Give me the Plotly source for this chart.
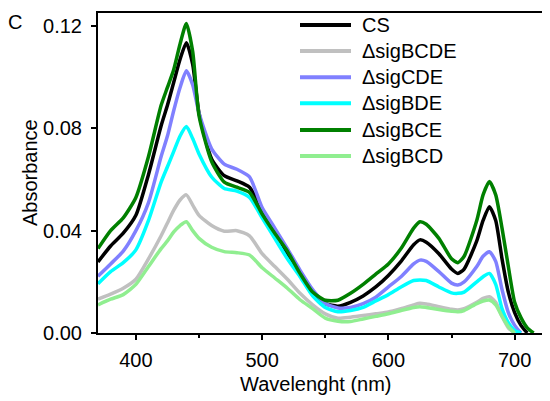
import plotly.graph_objects as go

wavelength = [370, 380, 390, 400, 410, 420, 425, 430, 435, 440, 445, 450, 460, 470, 480, 490,
              500, 510, 520, 530, 540, 550, 560, 570, 580, 590, 600, 610, 620, 625, 630,
              640, 650, 655, 660, 670, 675, 680, 685, 690, 695, 700, 705, 710, 715]

cs = [0.0278, 0.034, 0.039, 0.046, 0.062, 0.081, 0.089, 0.098, 0.107, 0.1135, 0.105, 0.086,
      0.068, 0.0615, 0.0595, 0.057, 0.048, 0.040, 0.031, 0.023, 0.015, 0.0115, 0.0105, 0.012,
      0.0145, 0.018, 0.0225, 0.028, 0.0345, 0.0364, 0.0355, 0.031, 0.025, 0.0233, 0.025,
      0.036, 0.044, 0.0494, 0.044, 0.029, 0.016, 0.008, 0.003, 0.0, None]

d_bcde = [0.0132, 0.0152, 0.0175, 0.021, 0.029, 0.038, 0.043, 0.048, 0.052, 0.054, 0.050, 0.046,
          0.042, 0.0398, 0.040, 0.038, 0.031, 0.026, 0.021, 0.0155, 0.011, 0.0075, 0.0058, 0.0062,
          0.0068, 0.0075, 0.0082, 0.0095, 0.011, 0.0116, 0.0113, 0.0103, 0.0093, 0.009, 0.0095,
          0.012, 0.0135, 0.0142, 0.012, 0.0065, 0.002, 0.0, None, None, None]

d_cde = [0.0222, 0.027, 0.032, 0.040, 0.051, 0.069, 0.077, 0.087, 0.096, 0.1025, 0.097, 0.086,
         0.072, 0.066, 0.064, 0.061, 0.049, 0.041, 0.033, 0.0246, 0.017, 0.0115, 0.0098, 0.010,
         0.0115, 0.014, 0.018, 0.022, 0.027, 0.0285, 0.028, 0.024, 0.0195, 0.0188, 0.020,
         0.026, 0.030, 0.0318, 0.028, 0.017, 0.008, 0.003, 0.0, None, None]

d_bde = [0.0193, 0.0240, 0.0275, 0.0325, 0.044, 0.059, 0.065, 0.071, 0.077, 0.0807, 0.076, 0.070,
         0.061, 0.0565, 0.0555, 0.053, 0.045, 0.037, 0.029, 0.022, 0.0145, 0.010, 0.0083, 0.0088,
         0.010, 0.0125, 0.015, 0.018, 0.0205, 0.0207, 0.0205, 0.018, 0.0157, 0.0155, 0.016,
         0.020, 0.022, 0.0233, 0.019, 0.0095, 0.004, 0.001, 0.0, None, None]

d_bce = [0.0330, 0.040, 0.045, 0.053, 0.069, 0.089, 0.096, 0.103, 0.113, 0.121, 0.110, 0.085,
         0.067, 0.059, 0.057, 0.055, 0.0465, 0.039, 0.032, 0.0233, 0.016, 0.0128, 0.0128, 0.0155,
         0.019, 0.023, 0.027, 0.033, 0.041, 0.0435, 0.0425, 0.037, 0.029, 0.0275, 0.030,
         0.044, 0.054, 0.0592, 0.054, 0.041, 0.026, 0.012, 0.006, 0.002, 0.0]

d_bcd = [0.011, 0.0132, 0.015, 0.019, 0.026, 0.033, 0.036, 0.0395, 0.042, 0.0435, 0.040, 0.037,
         0.0335, 0.0318, 0.0314, 0.0305, 0.0255, 0.0215, 0.0175, 0.013, 0.0095, 0.0058, 0.0046,
         0.0045, 0.0055, 0.0065, 0.0075, 0.0088, 0.0100, 0.0103, 0.0100, 0.0092, 0.0085, 0.0083,
         0.0088, 0.0115, 0.0125, 0.0129, 0.011, 0.0065, 0.0025, 0.0, None, None, None]

names = ["CS", "ΔsigBCDE", "ΔsigCDE", "ΔsigBDE", "ΔsigBCE", "ΔsigBCD"]
series = [cs, d_bcde, d_cde, d_bde, d_bce, d_bcd]
colors = ["#000000", "#c0c0c0", "#8080ff", "#00ffff", "#008000", "#90ee90"]

x_ticks = [400, 500, 600, 700]
x_minor_ticks = [450, 550, 650]
y_ticks = [0.00, 0.04, 0.08, 0.12]
y_tick_labels = ["0.00", "0.04", "0.08", "0.12"]

FONT = "Liberation Sans, Arial, sans-serif"
FS = 20

# the page body has an 8px default margin; work in window pixels and subtract it
OFF = 8
WIN_W, WIN_H = 550, 401
W, H = WIN_W - OFF, WIN_H - OFF
L, R, T, B = 98 - OFF, 550 - OFF, 13 - OFF, 333 - OFF
pw, ph = R - L, B - T

def px_to_paper(px, py):
    # px, py are window pixel coordinates
    return (px - OFF - L) / pw, (B - (py - OFF)) / ph

fig = go.Figure()
for name, vals, col in zip(names, series, colors):
    fig.add_trace(go.Scatter(x=wavelength, y=vals, mode="lines", name=name,
                             line=dict(color=col, width=3.5, shape="spline", smoothing=0.6),
                             showlegend=False))

# manual legend
row_y = [25, 51, 77.3, 103.3, 130, 156]
for name, col, ry in zip(names, colors, row_y):
    x0, y0 = px_to_paper(300, ry)
    x1, _ = px_to_paper(351, ry)
    fig.add_shape(type="line", xref="paper", yref="paper", x0=x0, x1=x1, y0=y0, y1=y0,
                  line=dict(color=col, width=4))
    tx, _ = px_to_paper(360, ry)
    fig.add_annotation(xref="paper", yref="paper", x=tx, y=y0, text=name, showarrow=False,
                       xanchor="left", yanchor="middle",
                       font=dict(family=FONT, size=FS, color="black"))

# panel label
lx, ly = px_to_paper(15, 22)
fig.add_annotation(xref="paper", yref="paper", x=lx, y=ly, text="C", showarrow=False,
                   xanchor="center", yanchor="middle",
                   font=dict(family=FONT, size=FS, color="black"))

# axis titles
ax, ay = px_to_paper(316, 384)
fig.add_annotation(xref="paper", yref="paper", x=ax, y=ay, text="Wavelenght (nm)",
                   showarrow=False, xanchor="center", yanchor="middle",
                   font=dict(family=FONT, size=FS, color="black"))
bx, by = px_to_paper(30, 173)
fig.add_annotation(xref="paper", yref="paper", x=bx, y=by, text="Absorbance",
                   showarrow=False, xanchor="center", yanchor="middle", textangle=-90,
                   font=dict(family=FONT, size=FS, color="black"))

fig.update_layout(
    width=W, height=H,
    margin=dict(l=L, r=W - R, t=T, b=H - B, pad=0),
    paper_bgcolor="white", plot_bgcolor="white",
    font=dict(family=FONT, size=FS, color="black"),
    xaxis=dict(range=[370, 728], tickmode="array", tickvals=x_ticks,
               ticks="outside", ticklen=5, tickwidth=1.5, tickcolor="black",
               minor=dict(tickvals=x_minor_ticks, ticks="outside", ticklen=3,
                          tickwidth=1.5, tickcolor="black"),
               showline=True, linecolor="black", linewidth=2, mirror=True,
               showgrid=False, zeroline=False, tickfont=dict(size=FS),
               ticklabelstandoff=3),
    yaxis=dict(range=[0, 0.1251], tickmode="array", tickvals=y_ticks, ticktext=y_tick_labels,
               ticks="outside", ticklen=5, tickwidth=1.5, tickcolor="black",
               showline=True, linecolor="black", linewidth=2,
               showgrid=False, zeroline=False, tickfont=dict(size=FS),
               ticklabelstandoff=5),
)

fig.write_html("out.html")
